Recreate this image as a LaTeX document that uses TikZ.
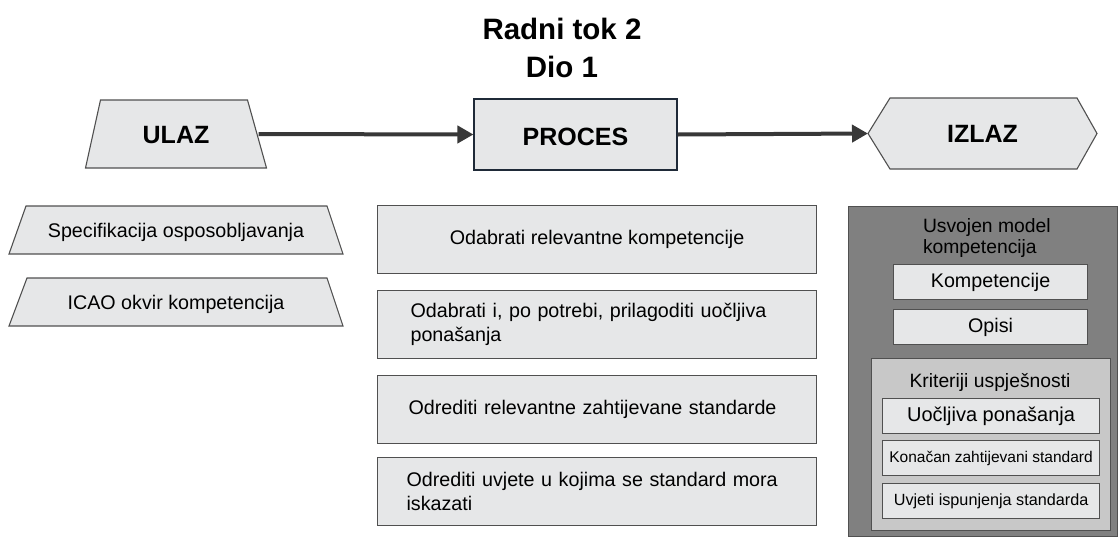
\documentclass[tikz,border=0pt]{standalone}
\usepackage{fontspec}
\setmainfont{Liberation Sans}
\usetikzlibrary{arrows.meta}
\definecolor{boxgray}{HTML}{E6E7E8}
\definecolor{bordgray}{HTML}{505050}
\definecolor{navy}{HTML}{1F2A38}
\definecolor{darkpanel}{HTML}{808080}
\definecolor{midpanel}{HTML}{C8C8C8}
\definecolor{arrowgray}{HTML}{383838}
\tikzset{
  body/.style={font=\fontsize{19.7}{24}\selectfont, text=black},
  head/.style={font=\bfseries\fontsize{25}{30}\selectfont, text=black},
  shapeline/.style={draw=bordgray, fill=boxgray, line width=1.1pt},
  pbox/.style={shapeline, body, rectangle, minimum width=439pt, minimum height=68pt, anchor=north west},
  obox/.style={shapeline, body, rectangle, minimum width=194pt, minimum height=35pt, anchor=north west, inner sep=0pt},
  kbox/.style={shapeline, rectangle, minimum width=217pt, minimum height=35pt, anchor=north west, inner sep=0pt},
  flow/.style={draw=arrowgray, line width=4pt, -{Triangle[length=16pt,width=17pt]}},
  plain/.style={inner sep=0pt, outer sep=0pt}
}
\begin{document}
\begin{tikzpicture}[x=1pt,y=-1pt]
\useasboundingbox (0,0) rectangle (1118,536);

% title
\node[font=\bfseries\fontsize{29.5}{38}\selectfont, align=center] (title) at (562,48) {Radni tok 2\\Dio 1};

% ULAZ trapezoid
\node[plain, minimum width=181pt, minimum height=68pt] (ulaz) at (176,134) {};
\draw[shapeline] (ulaz.south west) -- (ulaz.south east) -- ([xshift=-19pt]ulaz.north east) -- ([xshift=15pt]ulaz.north west) -- cycle;
\node[head, yshift=-1pt] (ulazt) at (ulaz.center) {ULAZ};

% PROCES
\node[rectangle, draw=navy, fill=boxgray, line width=1.1pt, minimum width=203pt, minimum height=71pt] (proces) at (575.5,134.5) {};
\node[head, yshift=-2pt] (procest) at (proces.center) {PROCES};

% IZLAZ hexagon
\node[plain, minimum width=229pt, minimum height=71pt] (izlaz) at (982.5,133.5) {};
\draw[shapeline] (izlaz.west) -- ([xshift=22pt]izlaz.north west) -- ([xshift=-20pt]izlaz.north east) -- (izlaz.east) -- ([xshift=-20pt]izlaz.south east) -- ([xshift=22pt]izlaz.south west) -- cycle;
\node[head] (izlazt) at (izlaz.center) {IZLAZ};

% arrows
\draw[flow] ([xshift=-8pt]ulaz.east) -- (proces.west);
\draw[flow] (proces.east) -- (izlaz.west);

% input trapezoids
\node[plain, minimum width=334pt, minimum height=48pt] (spec) at (176,230) {};
\draw[shapeline] (spec.south west) -- (spec.south east) -- ([xshift=-16pt]spec.north east) -- ([xshift=17pt]spec.north west) -- cycle;
\node[body, yshift=-2pt] (spect) at (spec.center) {Specifikacija osposobljavanja};

\node[plain, minimum width=334pt, minimum height=48pt] (icao) at (176,302) {};
\draw[shapeline] (icao.south west) -- (icao.south east) -- ([xshift=-16pt]icao.north east) -- ([xshift=18pt]icao.north west) -- cycle;
\node[body, yshift=-2pt] (icaot) at (icao.center) {ICAO okvir kompetencija};

% process boxes
\node[pbox] (p1) at (377,205) {Odabrati relevantne kompetencije};
\node[pbox, align=left, inner xsep=33pt, text width=373pt] (p2) at (377,290) {Odabrati i, po potrebi, prilagoditi uočljiva\\ponašanja};
\node[pbox, align=left, inner xsep=31pt, text width=377pt] (p3) at (377,375) {Odrediti relevantne zahtijevane standarde};
\node[pbox, align=left, inner xsep=29pt, text width=381pt] (p4) at (377,457) {Odrediti uvjete u kojima se standard mora\\iskazati};

% output panel
\node[rectangle, draw=bordgray, fill=darkpanel, line width=1.1pt, minimum width=269pt, minimum height=330pt, anchor=north west] (out) at (848,206) {};
\node[font=\fontsize{19.3}{21}\selectfont, align=left, anchor=north west, plain] (outt) at (923,219) {Usvojen model\\kompetencija};
\node[obox] (komp) at (893,264) {Kompetencije};
\node[obox] (opis) at (893,309) {Opisi};

\node[rectangle, draw=bordgray, fill=midpanel, line width=1.1pt, minimum width=239pt, minimum height=172pt, anchor=north west] (krit) at (871,358) {};
\node[font=\fontsize{19.3}{21}\selectfont, plain] (kritt) at (990,382) {Kriteriji uspješnosti};
\node[kbox, font=\fontsize{20}{24}\selectfont] (k1) at (882,398) {Uočljiva ponašanja};
\node[kbox, font=\fontsize{15.5}{18}\selectfont] (k2) at (882,440) {Konačan zahtijevani standard};
\node[kbox, font=\fontsize{16.2}{18}\selectfont] (k3) at (882,483) {Uvjeti ispunjenja standarda};
\end{tikzpicture}
\end{document}
